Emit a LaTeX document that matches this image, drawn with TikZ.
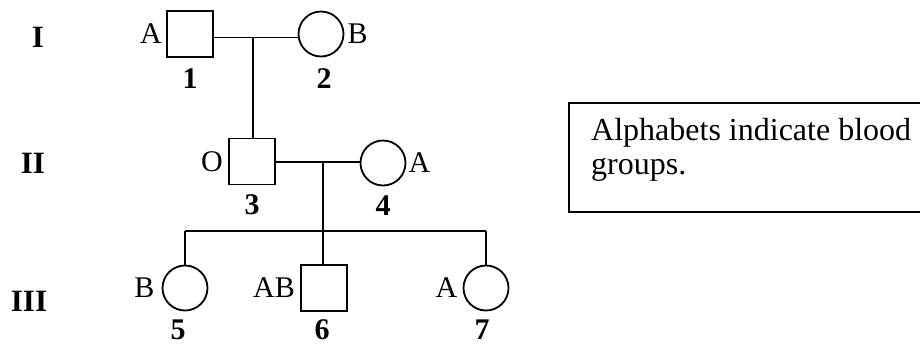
\documentclass[tikz,border=0pt]{standalone}
\usepackage{fontspec}
\setmainfont{Liberation Serif}
\usetikzlibrary{positioning}

\tikzset{
  male/.style={draw,line width=1.8pt,minimum size=46pt,inner sep=0pt},
  female/.style={draw,circle,line width=1.8pt,minimum size=45pt,inner sep=0pt},
  link/.style={line width=1.8pt},
  gen/.style={font=\fontsize{31}{34}\selectfont\bfseries},
  every label/.style={inner sep=1pt},
}

\begin{document}
\begin{tikzpicture}[x=1pt,y=-1pt,font=\fontsize{30}{34}\selectfont]
                \useasboundingbox[fill=white] (0,0) rectangle (920,346);
                % Generations
                \node[gen] (g1) at (38,37.5) {I};
                \node[gen] (g2) at (33,163) {II};
                \node[gen] (g3) at (29,301) {III};

                % Individuals
                \node[male,label={[label distance=3pt]left:A},label={[label distance=10pt]below:\textbf{1}}] (p1) at (190,34) {};
                \node[female,label={[label distance=2pt]right:B},label={[label distance=10pt,xshift=3pt]below:\textbf{2}}] (p2) at (321,34) {};
                \node[male,label={[label distance=4pt]left:O},label={[label distance=8pt]below:\textbf{3}}] (p3) at (252,161.5) {};
                \node[female,label={[label distance=1pt]right:A},label={[label distance=8pt]below:\textbf{4}}] (p4) at (383,163) {};
                \node[female,label={[label distance=6pt]left:B},label={[label distance=7pt,xshift=-7pt]below:\textbf{5}}] (p5) at (185,288) {};
                \node[male,label={[label distance=4pt]left:AB},label={[label distance=7pt,xshift=-2pt]below:\textbf{6}}] (p6) at (324,288) {};
                \node[female,label={[label distance=4pt]left:A},label={[label distance=7pt,xshift=-4pt]below:\textbf{7}}] (p7) at (486,288) {};

                % Lines
                \coordinate (m1) at (253,37.5);
                \coordinate (m2) at (323,162);
                \coordinate (s1) at (323,231);
                \draw[link] (p1.east |- m1) -- (p2.west |- m1);
                \draw[link] (m1) -- (m1 |- p3.north);
                \draw[link] (p3.east |- m2) -- (p4.west |- m2);
                \draw[link] (m2) -- (s1);
                \draw[link] (p5 |- s1) -- (p7 |- s1);
                \draw[link] (p5 |- s1) -- (p5);
                \draw[link] (s1) -- (s1 |- p6.north);
                \draw[link] (p7 |- s1) -- (p7);

                % Note
                \draw[line width=1.8pt] (930,103) -- (569,103) -- (569,212) -- (930,212);
                \node[anchor=base west,align=left,inner sep=0pt,font=\fontsize{32}{34}\selectfont] (note) at (591,174) {Alphabets indicate blood\\groups.};
\end{tikzpicture}
\end{document}
